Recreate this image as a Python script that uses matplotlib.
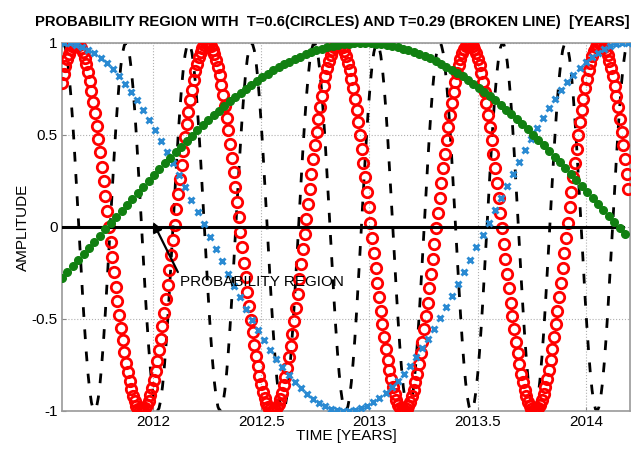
import numpy as np
import matplotlib.pyplot as plt

# values: period [years] and time of a maximum
T_circ = 0.605      # red circles (title says 0.6)
t0_circ = 2011.645
T_brok = 0.29       # black broken line
t0_brok = 2011.875
T_blue = 2.6        # blue crosses
t0_blue = 2011.59
T_green = 4.72      # green dots
t0_green = 2012.97

t_start, t_end = 2011.58, 2014.2
dt_fine = 0.008     # sampling of circles / broken line
dt_blue = 0.028
dt_green = 0.025

xticks = [2012, 2012.5, 2013, 2013.5, 2014]
xticklabels = ["2012", "2012.5", "2013", "2013.5", "2014"]
yticks = [-1, -0.5, 0, 0.5, 1]
yticklabels = ["-1", "-0.5", "0", "0.5", "1"]

title = "PROBABILITY REGION WITH  T=0.6(CIRCLES) AND T=0.29 (BROKEN LINE)  [YEARS]"
xlabel = "TIME [YEARS]"
ylabel = "AMPLITUDE"
note = "PROBABILITY REGION"
note_xy = (2012.0, 0.027)
note_text_xy = (2012.125, -0.30)

plt.rcParams['font.family'] = ['Liberation Sans', 'DejaVu Sans']

t = np.arange(t_start, t_end, dt_fine)
tb = np.arange(t_start + 0.01, t_end, dt_blue)
tg = np.arange(t_start, t_end, dt_green)

red = np.cos(2 * np.pi * (t - t0_circ) / T_circ)
black = np.cos(2 * np.pi * (t - t0_brok) / T_brok)
blue = np.cos(2 * np.pi * (tb - t0_blue) / T_blue)
green = np.cos(2 * np.pi * (tg - t0_green) / T_green)

fig = plt.figure(figsize=(6.37, 4.5), dpi=100)
ax = fig.add_axes([62/637, 39/450, 568/637, 368/450])

ax.plot(t, black, color='k', lw=2, dashes=(3.5, 4.5), zorder=2)
ax.plot(t, red, 'o', mfc='none', mec='red', ms=7.5, mew=2, zorder=3)
ax.plot([t_start, 2014.17], [0, 0], color='k', lw=2.2, zorder=4)
ax.plot(tb, blue, 'x', color='#2a8ad2', ms=5, mew=2.1, zorder=5)
ax.plot(tg, green, 'o', color='#118011', ms=5.5, mec='#118011', zorder=6)

ax.annotate('', xy=note_xy, xytext=(2012.115, -0.245),
            arrowprops=dict(arrowstyle='-|>', color='k', lw=1.6, mutation_scale=14,
                            shrinkA=0, shrinkB=0), zorder=7)
ax.text(note_text_xy[0], note_text_xy[1], note, fontsize=11, ha='left', va='center',
        zorder=7)

ax.set_xlim(t_start, 2014.203)
ax.set_ylim(-1, 1)
ax.set_xticks(xticks)
ax.set_xticklabels(xticklabels, fontsize=11)
ax.set_yticks(yticks)
ax.set_yticklabels(yticklabels, fontsize=11)
ax.tick_params(direction='in', length=3, color='#888888', pad=3)
ax.grid(True, linestyle=':', color='#b0b0b0', lw=0.8)
for s in ax.spines.values():
    s.set_color('#999999')
    s.set_linewidth(1.2)

fig.text(332/637, 1 - 22/450, title, ha='center', va='center',
         fontsize=10.6, fontweight='bold')
ax.set_xlabel(xlabel, fontsize=11, labelpad=0)
ax.set_ylabel(ylabel, fontsize=11, labelpad=1)

fig.savefig('out.png', dpi=100)
